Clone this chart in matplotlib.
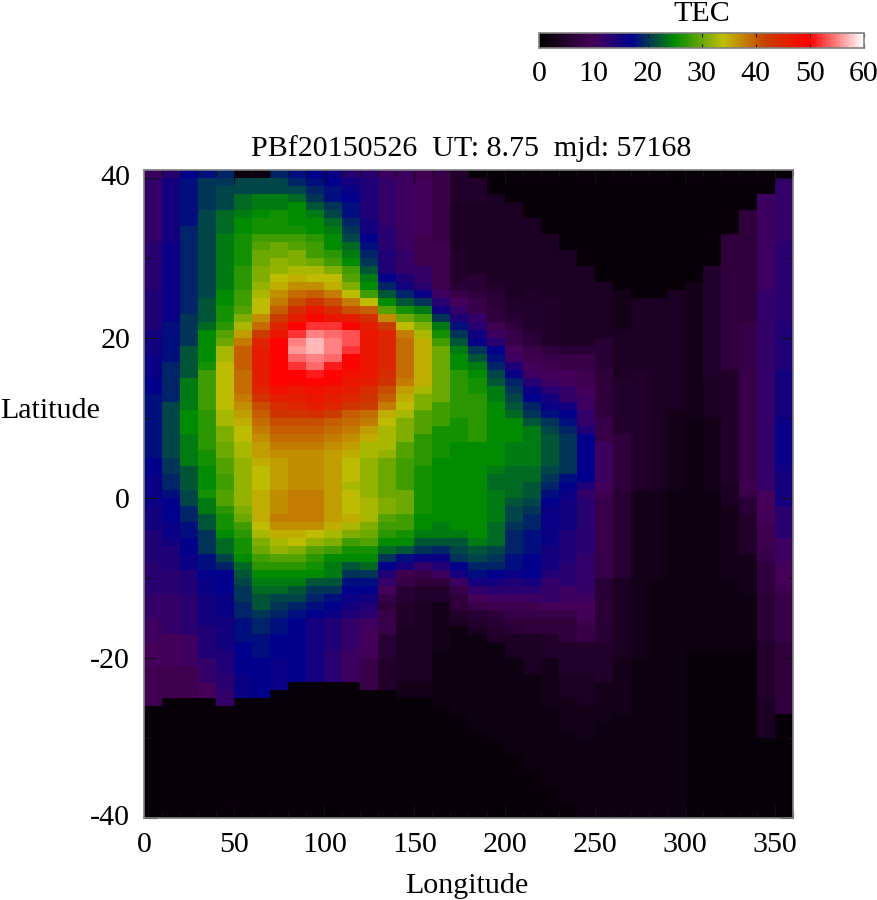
import matplotlib
matplotlib.use('Agg')
import matplotlib.pyplot as plt
import numpy as np
from matplotlib.colors import LinearSegmentedColormap
from matplotlib.transforms import ScaledTranslation

W, H = 878, 900

# TEC per 10 degree longitude column, each listed from lat 41 down to lat -40 in 1 degree rows
tec_by_lon = [
	[11,12,12,12,12,12,12,12,12,13, 13,13,13,13,13,14,14,14,14,14, 15,15,15,16,16,16,17,17,18,18, 18,18,18,18,18,18,17,17,16,16, 16,16,15,15,15,14,14,14,14,13, 13,13,13,12,12,12,11,11,11,10, 10,10,9,9,9,9,9,1,1,1, 1,1,1,1,1,1,1,1,1,1,1],
	[13,15,15,15,15,15,15,15,15,16, 16,16,16,16,16,16,16,16,16,18, 18,18,18,18,19,19,19,19,19,21, 21,21,21,21,21,21,20,20,19,19, 18,17,17,17,16,16,15,14,14,14, 13,13,13,12,12,12,12,12,10,10, 10,10,9,9,9,9,1,1,1,1, 1,1,1,1,1,1,1,1,1,1,1],
	[17,18,18,18,18,18,18,19,19,19, 19,19,19,19,19,19,19,19,20,20, 20,20,22,22,22,22,24,24,24,24, 25,25,25,24,24,24,24,22,22,22, 21,21,19,19,18,18,17,17,16,16, 14,14,14,13,13,13,13,13,11,11, 11,11,9,9,9,9,1,1,1,1, 1,1,1,1,1,1,1,1,1,1,1],
	[18,20,20,20,20,21,21,21,21,21, 21,21,21,21,21,21,22,22,22,23, 25,25,25,25,26,28,28,28,28,28, 27,27,27,27,27,26,26,25,25,25, 26,24,24,22,22,20,20,20,18,18, 17,16,16,15,15,15,15,14,14,14, 14,12,12,12,10,10,1,1,1,1, 1,1,1,1,1,1,1,1,1,1,1],
	[19,20,21,21,21,23,23,23,24,24, 24,24,24,24,24,25,25,26,26,27, 29,30,33,33,34,34,34,34,34,34, 33,33,31,31,30,30,29,29,28,28, 29,29,27,26,26,25,23,23,21,19, 17,17,17,16,16,16,15,15,15,15, 14,14,14,13,13,12,12,1,1,1, 1,1,1,1,1,1,1,1,1,1,1],
	[2,21,21,23,23,24,25,25,26,26, 26,26,27,27,27,28,28,29,31,33, 36,38,40,40,40,39,39,39,38,37, 36,35,34,34,33,33,32,32,32,32, 32,32,31,30,28,27,26,26,25,23, 22,21,20,20,19,19,18,18,18,17, 17,17,17,16,16,16,1,1,1,1, 1,1,1,1,1,1,1,1,1,1,1],
	[2,21,21,24,24,25,26,26,28,29, 30,30,31,31,32,33,34,34,37,39, 42,45,46,46,46,46,46,45,43,41, 40,39,38,37,36,36,35,34,34,34, 35,35,35,35,34,33,31,30,28,27, 25,24,23,22,22,20,19,19,18,18, 18,17,17,17,17,17,1,1,1,1, 1,1,1,1,1,1,1,1,1,1,1],
	[19,21,21,24,24,26,26,26,28,30, 30,32,32,34,35,37,38,40,42,45, 47,50,50,50,50,50,50,48,46,44, 43,41,40,39,38,37,36,36,36,36, 37,37,37,38,37,35,33,32,29,27, 25,24,23,21,20,19,18,18,17,17, 17,16,16,16,16,1,1,1,1,1, 1,1,1,1,1,1,1,1,1,1,1],
	[18,19,21,23,25,25,25,26,28,29, 31,31,33,35,37,39,41,44,46,50, 52,55,56,54,52,50,49,47,46,45, 43,41,40,39,38,37,37,37,37,37, 38,38,38,38,37,35,34,31,29,27, 25,24,22,21,19,18,17,17,17,17, 17,17,17,17,1,1,1,1,1,1, 1,1,1,1,1,1,1,1,1,1,1],
	[17,18,19,20,22,24,25,25,27,28, 28,30,33,34,37,40,43,47,49,52, 55,57,57,55,54,51,50,48,47,46, 44,41,40,39,38,37,37,37,37,37, 38,38,38,38,37,34,32,29,27,26, 25,22,20,19,18,17,15,15,15,15, 15,15,15,15,1,1,1,1,1,1, 1,1,1,1,1,1,1,1,1,1,1],
	[16,17,18,18,20,21,23,24,25,25, 27,28,31,34,35,38,41,44,47,52, 54,55,55,54,51,50,49,47,46,45, 42,40,39,38,37,36,36,36,36,36, 36,36,36,36,35,33,31,28,25,24, 24,22,20,18,17,16,14,14,14,14, 13,13,13,13,1,1,1,1,1,1, 1,1,1,1,1,1,1,1,1,1,1],
	[13,15,16,17,18,18,19,20,21,23, 24,25,28,29,31,34,38,41,46,49, 53,53,52,50,49,48,47,46,45,43, 40,39,38,37,36,35,34,34,34,33, 34,34,34,35,33,31,28,26,25,22, 20,18,17,16,15,14,12,12,12,12, 11,11,11,11,1,1,1,1,1,1, 1,1,1,1,1,1,1,1,1,1,1],
	[13,14,14,14,14,14,15,15,17,18, 19,20,22,24,25,28,34,40,44,46, 47,47,47,47,47,47,46,44,43,42, 39,38,36,35,33,33,32,32,32,32, 32,33,33,33,31,30,29,26,25,23, 20,18,17,15,14,13,11,10,10,10, 10,8,8,8,8,1,1,1,1,1, 1,1,1,1,1,1,1,1,1,1,1],
	[11,12,12,12,12,12,12,13,13,13, 14,14,14,17,19,22,25,29,37,42, 45,45,45,45,45,44,43,41,40,38, 35,34,33,33,33,32,30,30,30,30, 30,31,31,29,28,27,25,23,20,17, 14,12,10,8,7,8,8,8,6,6, 6,5,5,5,5,1,1,1,1,1, 1,1,1,1,1,1,1,1,1,1,1],
	[11,11,11,11,11,11,11,11,11,11, 12,12,12,14,15,19,22,26,30,34, 38,39,39,39,39,39,38,36,35,34, 33,31,31,31,29,29,28,28,28,28, 30,30,30,28,28,26,25,22,18,15, 9,8,6,6,5,5,5,4,4,4, 4,4,4,4,3,3,1,1,1,1, 1,1,1,1,1,1,1,1,1,1,1],
	[9,10,10,10,10,10,10,10,9,9, 9,9,12,12,13,16,20,24,28,31, 33,35,35,35,35,35,35,33,31,31, 29,29,29,27,27,27,27,26,26,26, 26,26,26,25,25,24,22,20,16,12, 8,7,5,5,4,4,4,4,4,4, 4,4,4,4,3,3,1,1,1,1, 1,1,1,1,1,1,1,1,1,1,1],
	[8,8,8,8,8,8,8,8,8,9, 9,9,9,9,9,11,13,15,20,24, 26,28,30,30,30,30,30,30,30,28, 28,28,26,26,26,26,25,25,25,25, 25,25,25,25,24,24,22,19,16,14, 11,7,5,5,3,3,3,3,3,3, 2,2,2,2,2,2,2,1,1,1, 1,1,1,1,1,1,1,1,1,1,1],
	[5,5,5,5,4,4,4,4,4,4, 5,5,5,5,6,8,10,12,14,18, 20,22,24,25,25,27,27,27,27,27, 27,26,26,26,25,25,25,25,25,25, 25,25,25,25,25,24,22,21,20,17, 15,11,8,7,7,5,4,2,2,2, 2,2,2,2,2,2,2,2,1,1, 1,1,1,1,1,1,1,1,1,1,1],
	[1,5,5,5,4,4,4,4,4,4, 4,4,4,6,6,7,8,8,12,13, 15,16,20,22,24,25,26,26,27,27, 27,27,27,27,25,25,25,25,25,25, 25,25,25,25,25,25,24,22,21,19, 18,15,12,10,8,6,5,4,2,2, 2,2,2,2,2,2,2,2,2,2, 1,1,1,1,1,1,1,1,1,1,1],
	[1,1,1,4,4,4,4,4,4,4, 4,4,4,4,5,6,6,7,7,9, 11,13,17,18,19,21,22,24,24,25, 25,25,25,25,25,25,25,24,23,23, 24,24,24,24,23,23,23,21,20,19, 17,15,13,11,9,7,6,5,5,2, 2,2,2,2,2,2,2,2,2,2, 2,1,1,1,1,1,1,1,1,1,1],
	[1,1,1,1,4,4,4,4,4,4, 4,4,4,4,4,4,5,5,6,7, 8,8,10,11,14,16,19,20,21,22, 23,25,25,25,24,24,24,23,23,23, 23,22,21,21,20,19,19,19,18,18, 16,14,13,11,9,8,7,6,4,4, 4,2,2,2,2,2,2,2,2,2, 2,2,2,1,1,1,1,1,1,1,1],
	[1,1,1,1,1,1,4,4,4,4, 4,4,4,4,4,5,5,5,5,5, 6,7,8,9,10,11,13,16,17,19, 20,22,24,24,24,24,24,23,23,22, 22,21,20,19,19,18,18,18,17,17, 17,15,13,11,9,8,7,7,4,4, 4,4,4,2,2,2,2,2,2,2, 2,2,2,2,2,1,1,1,1,1,1],
	[1,1,1,1,1,1,1,1,4,4, 4,4,4,4,4,4,5,5,5,5, 5,5,7,8,9,10,11,13,15,16, 18,20,21,22,22,22,22,21,20,19, 18,17,16,16,16,16,16,15,15,15, 14,12,12,12,10,8,7,7,5,5, 5,3,3,3,3,3,3,2,2,2, 2,2,2,2,2,2,2,1,1,1,1],
	[1,1,1,1,1,1,1,1,1,1, 4,4,4,4,4,4,4,4,4,4, 4,4,6,8,8,10,10,12,12,15, 17,18,19,20,20,20,20,20,18,17, 16,15,15,15,15,14,14,14,14,13, 13,13,11,11,10,8,7,7,7,5, 5,5,5,4,4,4,3,3,3,3, 2,2,2,2,2,2,2,2,2,1,1],
	[1,1,1,1,1,1,1,1,1,1, 1,1,4,4,4,4,4,4,4,4, 4,4,6,8,8,9,9,10,11,11, 12,12,14,17,17,17,17,17,17,14, 12,13,13,13,13,13,13,13,12,12, 12,12,12,11,10,10,9,8,8,5, 5,5,5,4,4,4,4,3,3,3, 3,2,2,2,2,2,2,2,2,2,2],
	[1,1,1,1,1,1,1,1,1,1, 1,1,1,1,4,4,4,4,4,4, 4,6,6,6,6,7,7,7,7,7, 7,8,8,8,11,11,11,11,11,10, 9,8,8,8,8,8,8,8,8,8, 8,6,6,6,6,6,6,6,6,5, 5,5,5,5,3,3,3,3,3,2, 2,2,2,2,2,2,2,2,2,2,2],
	[1,1,1,1,1,1,1,1,1,1, 1,1,1,1,1,3,3,3,3,3, 4,4,4,4,4,4,5,5,5,5, 5,5,5,7,7,7,7,7,7,7, 6,6,6,6,6,6,6,6,6,6, 6,4,4,4,4,4,4,4,4,4, 4,3,3,3,3,3,3,3,2,2, 2,2,2,2,2,2,2,2,2,2,2],
	[1,1,1,1,1,1,1,1,1,1, 1,1,1,1,1,1,4,4,4,4, 4,4,4,4,4,5,5,5,5,5, 5,5,5,5,5,5,5,5,5,5, 3,3,3,3,3,3,3,3,3,3, 3,3,3,3,3,3,3,3,3,3, 3,2,2,2,2,2,2,2,2,2, 2,2,2,2,2,2,2,2,2,2,2],
	[1,1,1,1,1,1,1,1,1,1, 1,1,1,1,1,1,4,4,4,4, 4,4,4,4,4,4,4,4,4,4, 4,4,4,4,4,4,4,4,4,4, 3,3,3,3,3,3,3,3,3,3, 3,2,2,2,2,2,2,2,2,2, 2,2,2,2,2,2,2,2,2,2, 2,2,2,2,2,2,2,2,2,2,2],
	[1,1,1,1,1,1,1,1,1,1, 1,1,1,1,1,4,4,4,4,4, 4,4,4,4,4,4,4,4,4,4, 3,3,3,3,3,3,3,3,3,3, 2,2,2,2,2,2,2,2,2,2, 2,2,2,2,2,2,2,2,2,2, 2,2,2,2,2,2,2,2,2,2, 2,2,2,2,2,2,2,2,2,2,2],
	[1,1,1,1,1,1,1,1,1,1, 1,1,1,1,3,3,3,3,3,3, 3,3,3,3,3,3,3,3,3,3, 3,2,2,2,2,2,2,2,2,2, 2,2,2,2,2,2,2,2,2,2, 2,2,2,2,2,2,2,2,2,2, 1,1,1,1,1,1,1,1,1,1, 1,1,1,1,1,1,1,1,1,1,1],
	[1,1,1,1,1,1,1,1,1,1, 1,1,5,5,5,5,5,5,5,5, 5,5,5,5,5,5,4,4,4,4, 4,3,3,3,3,3,3,3,3,3, 2,2,2,2,2,2,2,2,2,2, 2,2,2,2,2,2,2,2,2,2, 1,1,1,1,1,1,1,1,1,1, 1,1,1,1,1,1,1,1,1,1,1],
	[1,1,1,1,1,1,1,1,7,7, 7,7,7,7,7,7,7,7,7,7, 7,7,7,7,7,5,5,5,5,5, 5,5,5,5,5,5,5,5,5,4, 4,4,3,3,3,3,3,3,3,3, 3,2,2,2,2,2,2,2,2,2, 1,1,1,1,1,1,1,1,1,1, 1,1,1,1,1,1,1,1,1,1,1],
	[1,1,1,1,1,7,7,7,7,7, 7,7,7,7,7,7,7,7,7,8, 8,8,8,8,8,8,8,8,8,8, 8,8,8,8,8,8,8,8,8,9, 8,6,6,5,5,5,5,5,3,3, 3,3,3,2,2,2,2,2,2,2, 1,1,1,1,1,1,1,1,1,1, 1,1,1,1,1,1,1,1,1,1,1],
	[1,1,1,11,11,11,11,11,11,11, 11,11,11,11,11,12,12,12,12,12, 12,12,12,12,12,12,12,12,12,12, 12,12,12,12,12,12,12,12,12,12, 10,10,10,10,9,9,9,8,8,7, 7,7,7,6,6,6,6,6,6,5, 5,5,5,5,5,5,4,4,4,4, 4,1,1,1,1,1,1,1,1,1,1],
	[1,12,12,12,12,12,12,12,12,13, 13,13,13,13,13,13,13,13,13,14, 14,14,14,14,14,15,15,15,15,15, 15,16,16,16,16,16,16,15,15,15, 15,15,13,13,13,13,11,11,11,10, 10,10,9,8,8,8,8,8,8,7, 7,7,7,7,7,7,7,7,1,1, 1,1,1,1,1,1,1,1,1,1,1],
]

lon_ticks = [0, 50, 100, 150, 200, 250, 300, 350]
lat_ticks = [-40, -20, 0, 20, 40]
bar_ticks = [0, 10, 20, 30, 40, 50, 60]

title_text = 'PBf20150526  UT: 8.75  mjd: 57168'

palette = [(0, '#000000'), (10, '#46005a'), (17, '#00008c'), (25, '#008c00'), (34, '#bebe00'),
	(42, '#c83c00'), (50, '#ff0000'), (60, '#ffffff')]

plt.rcParams['font.family'] = ['Liberation Serif', 'DejaVu Serif']
plt.rcParams['font.size'] = 21.6
plt.rcParams['axes.unicode_minus'] = False


def px_rect(left, top, right, bottom):
	return [left / W, 1 - bottom / H, (right - left) / W, (bottom - top) / H]


tec = np.array(tec_by_lon, dtype=float).T
lon_edges = np.arange(0, 370, 10)
lat_edges = np.arange(41, -41, -1)
cmap = LinearSegmentedColormap.from_list('tec', [(v / 60, c) for v, c in palette])

fig = plt.figure(figsize=(W / 100, H / 100), dpi=100)
ax = fig.add_axes(px_rect(144, 170, 793, 818))
mesh = ax.pcolormesh(lon_edges, lat_edges, tec, cmap=cmap, vmin=0, vmax=60, shading='flat')
ax.set_xlim(0, 360)
ax.set_ylim(-40, 41)
ax.set_xticks(lon_ticks)
ax.set_yticks(lat_ticks)
ax.set_xticks(np.arange(0, 361, 10), minor=True)
ax.set_yticks(np.arange(-40, 41, 10), minor=True)
ax.tick_params(which='major', direction='in', top=True, right=True, length=9.4, width=0.8, color='#111111')
ax.tick_params(which='minor', direction='in', top=True, right=True, length=4.3, width=0.8, color='#111111')
ax.tick_params(axis='x', which='major', pad=10)
ax.tick_params(axis='y', which='major', pad=10)
for spine in ax.spines.values():
	spine.set_color('#808080')
	spine.set_linewidth(1.2)

# the end labels sit a little above their ticks in the original
nudge = ScaledTranslation(0, 3 / 100, fig.dpi_scale_trans)
for label in (ax.get_yticklabels()[0], ax.get_yticklabels()[-1]):
	label.set_transform(label.get_transform() + nudge)

fig.text(471 / W, 1 - 149 / H, title_text, ha='center', va='center')
fig.text(467 / W, 1 - 886 / H, 'Longitude', ha='center', va='center')
fig.text(50 / W, 1 - 411 / H, 'Latitude', ha='center', va='center')

cax = fig.add_axes(px_rect(539.5, 33, 864, 47.5))
bar = fig.colorbar(mesh, cax=cax, orientation='horizontal')
bar.set_ticks(bar_ticks)
cax.minorticks_off()
cax.tick_params(direction='in', top=True, length=3, width=0.8, color='#111111', pad=10)
bar.outline.set_edgecolor('#808080')
bar.outline.set_linewidth(1.2)
fig.text(702 / W, 1 - 21 / H, 'TEC', ha='center', va='baseline')

fig.savefig('out.png', dpi=100)
